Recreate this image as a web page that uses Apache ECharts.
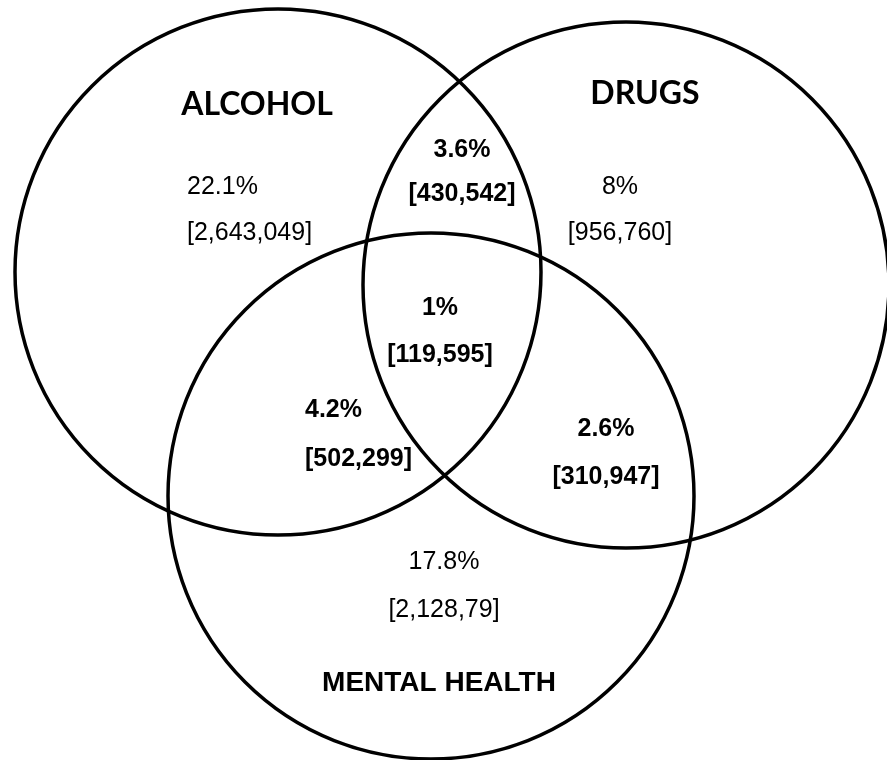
<!DOCTYPE html>
<html>
<head>
<meta charset="utf-8">
<script src="https://cdn.jsdelivr.net/npm/echarts@6/dist/echarts.min.js"></script>
<style>
html,body{margin:0;padding:0;background:#fff;}
#chart{width:887px;height:760px;}
</style>
</head>
<body>
<div id="chart"></div>
<script>
// Sets (circles) of the Venn diagram
const setNames = ['ALCOHOL', 'DRUGS', 'MENTAL HEALTH'];
const circleX = [278, 626, 431];
const circleY = [272, 285, 496];
const circleR = [263, 263, 263];

// Regions: A only, A∩D, D only, A∩D∩M, A∩M, D∩M, M only
const regionPct   = ['22.1%', '3.6%', '8%', '1%', '4.2%', '2.6%', '17.8%'];
const regionCount = ['[2,643,049]', '[430,542]', '[956,760]', '[119,595]', '[502,299]', '[310,947]', '[2,128,79]'];
const regionBold  = [false, true, false, true, true, true, false];

// label anchor positions (diagram units)
const regionX     = [187, 462, 620, 440, 305, 606, 444];
const regionAlign = ['left', 'center', 'center', 'center', 'left', 'center', 'center'];
const pctY        = [187, 150, 187, 308, 410, 429, 562];
const countY      = [233, 194, 233, 355, 459, 477, 610];
const setLabelX   = [257, 645, 439];
const setLabelY   = [105, 94, 683];

const chart = echarts.init(document.getElementById('chart'), null, {renderer: 'canvas'});

const circleData = setNames.map((n, i) => [circleX[i], circleY[i], circleR[i], n]);

const textData = [];
regionPct.forEach((p, i) => {
  textData.push([regionX[i], pctY[i], p, regionBold[i] ? 1 : 0, regionAlign[i], 'num']);
  textData.push([regionX[i], countY[i], regionCount[i], regionBold[i] ? 1 : 0, regionAlign[i], 'num']);
});
setNames.forEach((n, i) => {
  textData.push([setLabelX[i], setLabelY[i], n, 1, 'center', i < 2 ? 'title' : 'title2']);
});

chart.setOption({
  backgroundColor: '#fff',
  animation: false,
  grid: {left: 0, right: 0, top: 0, bottom: 0},
  xAxis: {type: 'value', min: 0, max: 887, show: false},
  yAxis: {type: 'value', min: 0, max: 760, inverse: true, show: false},
  series: [
    {
      type: 'custom',
      coordinateSystem: 'cartesian2d',
      data: circleData,
      renderItem: function (params, api) {
        const c = api.coord([api.value(0), api.value(1)]);
        const s = api.size([api.value(2), api.value(2)]);
        return {
          type: 'circle',
          shape: {cx: c[0], cy: c[1], r: s[0]},
          style: {fill: 'none', stroke: '#000', lineWidth: 3.5}
        };
      }
    },
    {
      type: 'custom',
      coordinateSystem: 'cartesian2d',
      data: textData,
      encode: {x: 0, y: 1},
      renderItem: function (params, api) {
        const d = textData[params.dataIndex];
        const c = api.coord([d[0], d[1]]);
        let font;
        if (d[5] === 'title') font = 'bold 32px Lato';
        else if (d[5] === 'title2') font = 'bold 28px "Liberation Sans", Arial';
        else font = (d[3] ? 'bold ' : '') + '25px "Liberation Sans", Arial';
        return {
          type: 'text',
          style: {
            text: d[2], x: c[0], y: c[1],
            font: font, fill: '#000',
            align: d[4], verticalAlign: 'middle'
          }
        };
      }
    }
  ]
});
</script>
</body>
</html>
